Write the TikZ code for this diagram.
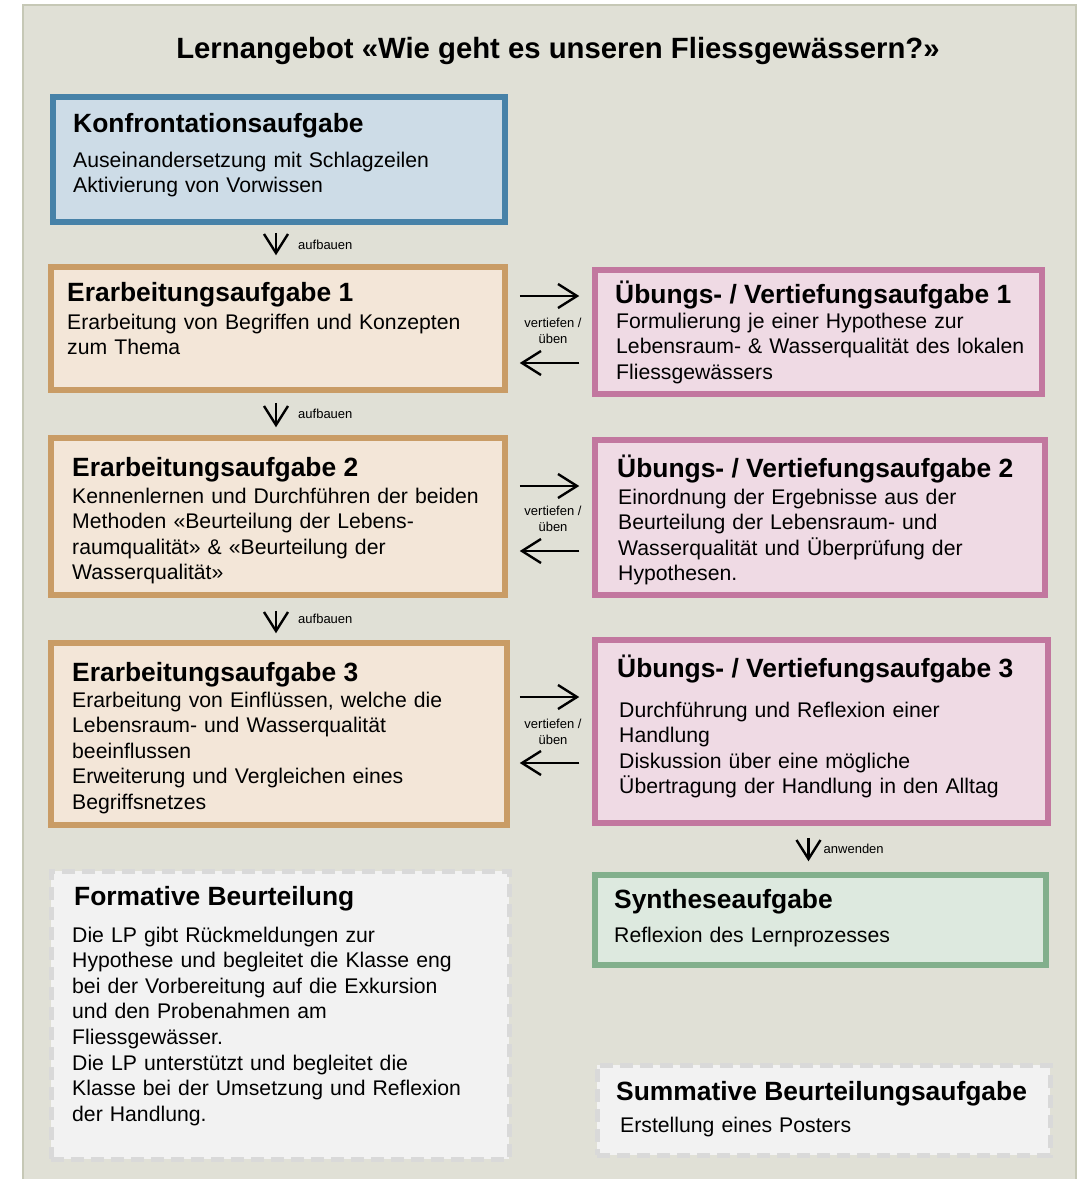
\documentclass[tikz,border=0pt]{standalone}
\usepackage{fontspec}
\setmainfont{Liberation Sans}
\usepackage{tikz}
\usetikzlibrary{arrows.meta,positioning}
\definecolor{panelfill}{HTML}{E0E0D6}
\definecolor{panelframe}{HTML}{C6C8B6}
\definecolor{konfill}{HTML}{CDDCE7}
\definecolor{konframe}{HTML}{4782A8}
\definecolor{erafill}{HTML}{F3E6D8}
\definecolor{eraframe}{HTML}{C99C66}
\definecolor{uebfill}{HTML}{EFDAE4}
\definecolor{uebframe}{HTML}{C2779F}
\definecolor{synfill}{HTML}{DDE9DF}
\definecolor{synframe}{HTML}{82AF8C}
\definecolor{evalfill}{HTML}{F2F2F2}
\definecolor{evalframe}{HTML}{D9D9D9}
\tikzset{>/.tip={Straight Barb[length=19pt,width=24pt]},
  box/.style={draw, line width=5.5pt, inner sep=0pt},
  konbox/.style={box, draw=konframe, fill=konfill},
  erabox/.style={box, draw=eraframe, fill=erafill},
  uebbox/.style={box, draw=uebframe, fill=uebfill},
  synbox/.style={box, draw=synframe, fill=synfill},
  evalbox/.style={box, line width=5pt, draw=evalframe, fill=evalfill, dash pattern=on 13pt off 7pt},
  head/.style={anchor=base west, inner sep=0pt, font=\fontsize{26.4pt}{30pt}\selectfont\bfseries},
  body/.style={anchor=base west, inner sep=0pt, align=left, text width=440pt,
    font=\fontsize{21.2pt}{25.6pt}\selectfont},
  lbl/.style={inner sep=0pt, align=center, font=\fontsize{13pt}{16pt}\selectfont}}

\begin{document}
\begin{tikzpicture}[x=1pt,y=-1pt,line width=2.4pt]
\useasboundingbox (0,0) rectangle (1084,1179);
\draw[panelframe, fill=panelfill, line width=2pt] (23,5) rectangle (1076,1190);
\node[anchor=base, inner sep=0pt, font=\fontsize{29.3pt}{34pt}\selectfont\bfseries] (title) at (558,58)
     {Lernangebot «Wie geht es unseren Fliessgewässern?»};

\node[konbox, minimum width=452pt, minimum height=125pt] (kon) at (279,159.5) {};
\node[erabox, minimum width=454pt, minimum height=123pt] (era1) at (278,328.5) {};
\node[uebbox, minimum width=447pt, minimum height=124pt] (ueb1) at (818.5,332) {};
\node[erabox, minimum width=454pt, minimum height=157pt] (era2) at (278,516.5) {};
\node[uebbox, minimum width=450pt, minimum height=155pt] (ueb2) at (820,517.5) {};
\node[erabox, minimum width=456pt, minimum height=182pt] (era3) at (279,734) {};
\node[uebbox, minimum width=453pt, minimum height=183pt] (ueb3) at (821.5,731.5) {};
\node[synbox, minimum width=451pt, minimum height=90pt] (syn) at (820.5,920) {};
\node[evalbox, minimum width=458pt, minimum height=288pt] (form) at (280,1015) {};
\node[evalbox, minimum width=453pt, minimum height=90pt] (summ) at (823.5,1110) {};

\node[head] (kon-head) at (72,132) {Konfrontationsaufgabe};
\node[body] (kon-text) at (72,167) {Auseinandersetzung mit Schlagzeilen\\Aktivierung von Vorwissen};
\node[head] (era1-head) at (66,301) {Erarbeitungsaufgabe 1};
\node[body] (era1-text) at (66,329) {Erarbeitung von Begriffen und Konzepten\\zum Thema};
\node[head] (ueb1-head) at (614,303) {Übungs- / Vertiefungsaufgabe 1};
\node[body] (ueb1-text) at (615,328) {Formulierung je einer Hypothese zur\\Lebensraum- \& Wasserqualität des lokalen\\Fliessgewässers};
\node[head] (era2-head) at (71,476) {Erarbeitungsaufgabe 2};
\node[body] (era2-text) at (71,503) {Kennenlernen und Durchführen der beiden\\Methoden «Beurteilung der Lebens-\\raumqualität» \& «Beurteilung der\\Wasserqualität»};
\node[head] (ueb2-head) at (616,477) {Übungs- / Vertiefungsaufgabe 2};
\node[body] (ueb2-text) at (617,504) {Einordnung der Ergebnisse aus der\\Beurteilung der Lebensraum- und\\Wasserqualität und Überprüfung der\\Hypothesen.};
\node[head] (era3-head) at (71,681) {Erarbeitungsaufgabe 3};
\node[body] (era3-text) at (71,707) {Erarbeitung von Einflüssen, welche die\\Lebensraum- und Wasserqualität\\beeinflussen\\Erweiterung und Vergleichen eines\\Begriffsnetzes};
\node[head] (ueb3-head) at (616,677) {Übungs- / Vertiefungsaufgabe 3};
\node[body] (ueb3-text) at (618,717) {Durchführung und Reflexion einer\\Handlung\\Diskussion über eine mögliche\\Übertragung der Handlung in den Alltag};
\node[head] (syn-head) at (613,908) {Syntheseaufgabe};
\node[body] (syn-text) at (613,942) {Reflexion des Lernprozesses};
\node[head] (form-head) at (73,905) {Formative Beurteilung};
\node[body] (form-text) at (71,942) {Die LP gibt Rückmeldungen zur\\Hypothese und begleitet die Klasse eng\\bei der Vorbereitung auf die Exkursion\\und den Probenahmen am\\Fliessgewässer.\\Die LP unterstützt und begleitet die\\Klasse bei der Umsetzung und Reflexion\\der Handlung.};
\node[head] (summ-head) at (615,1100) {Summative Beurteilungsaufgabe};
\node[body] (summ-text) at (619,1132) {Erstellung eines Posters};

\node[lbl] (vt1) at (553,331) {vertiefen /\\üben};
\node[lbl] (vt2) at (553,519) {vertiefen /\\üben};
\node[lbl] (vt3) at (553,732) {vertiefen /\\üben};

\path[->] ([xshift=-3pt]kon.south) edge[shorten <=8pt, shorten >=9pt] node[lbl, right=21pt] (ab1)
     {aufbauen} ([xshift=-2pt]era1.north);
\path[->] ([xshift=-2pt]era1.south) edge[shorten <=10pt, shorten >=8pt] node[lbl, right=21pt] (ab2)
     {aufbauen} ([xshift=-2pt]era2.north);
\path[->] ([xshift=-2pt]era2.south) edge[shorten <=13pt, shorten >=7pt] node[lbl, right=21pt] (ab3)
     {aufbauen} ([xshift=-3pt]era3.north);
\path[->] ([xshift=-13pt]ueb3.south) edge[shorten <=12pt, shorten >=11pt] node[lbl, right=14pt] (aw)
     {anwenden} ([xshift=-12pt]syn.north);

\path[->] ([yshift=32.5pt]era1.east) edge[shorten <=12pt, shorten >=13pt] ([yshift=32.5pt]era1.east -| ueb1.west);
\path[->] ([yshift=-34.5pt]era1.east -| ueb1.west) edge[shorten <=13pt, shorten >=12pt] ([yshift=-34.5pt]era1.east);
\path[->] ([yshift=30.5pt]era2.east) edge[shorten <=12pt, shorten >=13pt] ([yshift=30.5pt]era2.east -| ueb2.west);
\path[->] ([yshift=-34.5pt]era2.east -| ueb2.west) edge[shorten <=13pt, shorten >=12pt] ([yshift=-34.5pt]era2.east);
\path[->] ([yshift=37pt]era3.east) edge[shorten <=10pt, shorten >=13pt] ([yshift=37pt]era3.east -| ueb3.west);
\path[->] ([yshift=-29pt]era3.east -| ueb3.west) edge[shorten <=13pt, shorten >=10pt] ([yshift=-29pt]era3.east);
\end{tikzpicture}
\end{document}
